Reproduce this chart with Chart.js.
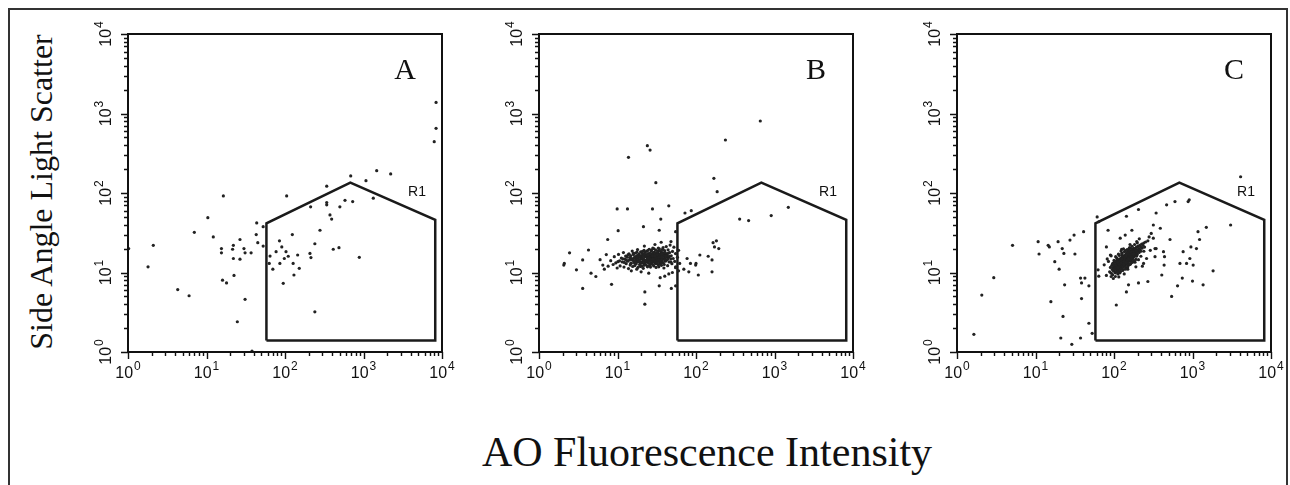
<!DOCTYPE html>
<html>
  <head>
    <title>AO flow cytometry</title>
    <style>
      body {
        margin: 0;
        background: #fff;
        width: 1290px;
        height: 485px;
        overflow: hidden;
        position: relative;
      }
      .frame {
        position: absolute;
        left: 8px;
        top: 8px;
        width: 1276px;
        height: 500px;
        border: 2px solid #333;
      }
      canvas {
        position: absolute;
        top: 16px;
      }
      .ytitle {
        position: absolute;
        left: 41px;
        top: 192px;
        transform: translate(-50%, -50%) rotate(-90deg);
        font-family: "Liberation Serif", "Times New Roman", serif;
        font-size: 32px;
        white-space: nowrap;
        color: #111;
      }
      .xtitle {
        position: absolute;
        left: 707px;
        top: 452px;
        transform: translate(-50%, -50%);
        font-family: "Liberation Serif", "Times New Roman", serif;
        font-size: 42px;
        white-space: nowrap;
        color: #111;
      }
    </style>
  </head>
  <body>
    <div class="frame"></div>
    <div class="ytitle">Side Angle Light Scatter</div>
    <div class="xtitle">AO Fluorescence Intensity</div>
    <canvas id="chartA" width="374" height="372"></canvas>
    <canvas id="chartB" width="374" height="372"></canvas>
    <canvas id="chartC" width="374" height="372"></canvas>

    <script src="https://cdn.jsdelivr.net/npm/chart.js"></script>
    <script>
      // axis decades (both axes 10^0 .. 10^4)
      var decades = [1, 10, 100, 1000, 10000];
      var exponents = ["0", "1", "2", "3", "4"];
      var panelLetters = ["A", "B", "C"];

      // gate R1 polygon (x, y) in data units
      var gateX = [58, 58, 680, 8200, 8200, 58];
      var gateY = [1.4, 41.5, 135, 46, 1.4, 1.4];
      var gateLabel = "R1";
      var gateLabelPos = [4800, 104];

      // panel A: events [x, y]
      var pointsA = [
        [1.8, 11.8], [2.1, 22], [4.3, 6.1], [6.0, 5.1], [7.0, 32], [10.4, 49], [12.2, 28],
        [16.4, 92], [15.5, 20], [15.5, 17.7], [16, 8.0], [18, 7.4], [21.5, 19.6], [22, 22],
        [22, 15], [22.4, 9.2], [24.7, 2.4], [26.7, 26], [26.7, 14.7], [30, 20], [31, 4.6],
        [31, 17.7], [37, 17.7], [43.6, 42], [43, 30], [45, 23.7], [52.7, 37.7], [52.7, 21.5],
        [64.5, 16.1], [63, 13], [70, 11], [77, 18.3], [85, 25], [86, 13], [91, 21], [95, 7.3],
        [98, 15], [103, 18.3], [105, 92], [110, 16], [124, 30], [127, 13], [130, 9.3],
        [145, 16.6], [152, 11.3], [208, 17.4], [212, 67], [214, 15.4], [240, 23], [240, 3.2],
        [279, 34], [340, 122], [340, 71], [340, 76], [374, 53], [393, 47], [412, 19.6],
        [487, 20.5], [500, 67], [581, 81], [687, 164], [728, 78], [884, 15.5], [1075, 143],
        [1333, 86], [1473, 191], [2220, 174], [8400, 1380], [8400, 650], [7960, 442],
        [1.02, 20], [38, 1.03]
      ];

      // panel B: scattered events
      var pointsB = [
        [659, 805], [237, 464], [24, 394], [26, 347], [13.8, 281], [30.8, 135], [169, 153],
        [186, 104], [9.9, 63], [13.4, 63], [27.9, 63], [45, 69], [35.6, 47], [87, 60],
        [72.4, 56], [360, 47], [468, 45], [908, 52], [1500, 66], [10.2, 33.6], [34, 34],
        [21.4, 37.7], [55, 32.6], [165, 23.7], [182, 25], [172, 21], [195, 20], [143, 16],
        [160, 14.4], [100, 13], [99, 12.4], [107, 9.3], [160, 10.2], [112, 16.6], [77, 15],
        [85, 13], [70, 11], [81, 10.2], [55, 11.8], [55, 6.8], [48.5, 6.3], [34, 6.8],
        [22.3, 5.7], [22.3, 4.0], [8.4, 7.1], [3.6, 6.3], [2.07, 12.4], [2.1, 13],
        [2.45, 17.7], [3.0, 10.8], [3.6, 14.4], [4.27, 19.2], [4.6, 9.8], [5.3, 8.9],
        [7.5, 26], [6.5, 12.4], [6.0, 14.5], [6.8, 11.0], [7.2, 16.8], [7.6, 12.0],
        [55, 11.5], [58, 15.5], [60, 19.0], [62, 13.0], [50, 10.0], [45, 9.6], [40, 9.0],
        [35, 8.6], [25, 9.8], [20, 10.2], [15, 10.5], [30, 22.5], [36, 24.0], [22, 21.5],
        [48, 24.5], [60, 10.5]
      ];

      // panel B: dense population around 10^1
      var clusterB = [
        [8.2, 14.1], [8.8, 12.6], [9.1, 15.8], [9.5, 13.2], [9.9, 11.4], [10.3, 16.9], [10.6, 14.0],
        [10.8, 12.1], [11.2, 15.2], [11.5, 13.6], [11.9, 17.8], [12.1, 11.7], [12.4, 14.7],
        [12.7, 16.1], [12.9, 12.9], [13.3, 15.6], [13.5, 13.9], [13.8, 11.2], [14.0, 17.2],
        [14.2, 14.4], [14.5, 12.4], [14.7, 16.3], [14.9, 13.1], [15.2, 15.0], [15.4, 18.6],
        [15.6, 11.9], [15.8, 14.2], [16.0, 16.7], [16.2, 13.4], [16.5, 12.2], [16.7, 15.5],
        [16.9, 17.6], [17.1, 14.0], [17.3, 12.8], [17.5, 16.2], [17.8, 13.7], [18.0, 19.4],
        [18.2, 11.6], [18.4, 15.1], [18.6, 14.3], [18.9, 17.0], [19.1, 12.5], [19.3, 16.0],
        [19.5, 13.3], [19.7, 18.2], [20.0, 14.8], [20.2, 12.0], [20.4, 15.7], [20.6, 17.4],
        [20.9, 13.8], [21.1, 16.5], [21.3, 11.3], [21.5, 14.6], [21.8, 19.0], [22.0, 13.0],
        [22.2, 15.9], [22.5, 17.9], [22.7, 12.6], [22.9, 14.1], [23.2, 16.8], [23.4, 13.5],
        [23.6, 18.5], [23.9, 15.3], [24.1, 11.8], [24.3, 14.9], [24.6, 17.3], [24.8, 13.2],
        [25.0, 16.4], [25.3, 19.6], [25.5, 12.3], [25.7, 15.0], [26.0, 17.7], [26.2, 14.4],
        [26.5, 13.0], [26.7, 16.1], [27.0, 18.8], [27.2, 12.7], [27.5, 15.6], [27.7, 14.0],
        [28.0, 17.1], [28.2, 20.3], [28.5, 13.6], [28.7, 16.6], [29.0, 12.1], [29.3, 15.2],
        [29.5, 18.1], [29.8, 14.5], [30.1, 16.9], [30.3, 13.3], [30.6, 19.2], [30.9, 15.8],
        [31.2, 12.9], [31.4, 17.5], [31.7, 14.2], [32.0, 16.3], [32.3, 13.7], [32.6, 18.6],
        [32.9, 15.4], [33.2, 12.4], [33.5, 16.8], [33.8, 14.8], [34.1, 19.9], [34.4, 13.1],
        [34.7, 17.2], [35.1, 15.1], [35.4, 12.8], [35.8, 16.0], [36.1, 18.3], [36.5, 14.1],
        [36.9, 15.9], [37.3, 13.4], [37.7, 17.7], [38.1, 20.6], [38.5, 14.7], [38.9, 16.4],
        [39.4, 12.6], [39.8, 18.9], [40.3, 15.3], [40.8, 13.9], [41.3, 17.0], [41.8, 21.2],
        [42.4, 14.4], [42.9, 16.7], [43.5, 12.2], [44.1, 19.3], [44.7, 15.6], [45.4, 13.6],
        [46.1, 17.8], [46.8, 22.1], [47.6, 14.9], [48.4, 16.2], [49.3, 12.9], [50.2, 18.4],
        [51.2, 15.0], [52.3, 20.8], [53.5, 13.8], [54.8, 17.3],
        [15.1, 14.6], [16.3, 15.3], [17.4, 14.8], [18.3, 16.6], [19.0, 14.0], [19.8, 15.4],
        [20.5, 16.2], [21.2, 15.0], [21.9, 14.3], [22.6, 16.1], [23.3, 15.7], [24.0, 13.9],
        [24.7, 15.5], [25.4, 14.2], [26.1, 16.0], [26.8, 15.1], [27.4, 13.4], [28.1, 15.9],
        [28.8, 14.7], [29.4, 16.4], [30.0, 15.0], [30.7, 14.0], [31.5, 15.6], [32.2, 14.9],
        [33.0, 17.0], [33.7, 15.7], [34.5, 14.6], [35.3, 16.6], [36.2, 15.3], [37.0, 16.9],
        [37.9, 15.0], [38.8, 17.4], [39.7, 16.1], [40.6, 17.8], [17.0, 13.1], [18.7, 13.6],
        [20.3, 13.1], [22.3, 13.6], [24.4, 16.6], [26.4, 17.2], [28.4, 17.8], [30.4, 17.4],
        [32.5, 18.1], [34.9, 18.7], [19.4, 15.9], [23.7, 14.5], [27.9, 16.3], [31.9, 16.7],
        [36.7, 17.2], [25.9, 14.8], [29.7, 13.8], [33.9, 15.4], [21.6, 17.1], [18.9, 16.0],
        [14.4, 15.4], [13.0, 14.3], [11.7, 14.9], [10.1, 13.7], [42.0, 15.8], [44.4, 17.5],
        [14.8, 13.0], [16.6, 14.1], [17.9, 15.8], [19.9, 13.4], [21.4, 16.0], [23.0, 14.0],
        [24.9, 15.2], [26.6, 13.8], [28.3, 14.6], [29.9, 16.1], [31.8, 13.2], [33.4, 14.2],
        [35.0, 13.9], [36.8, 15.6], [38.4, 13.2], [40.0, 14.4], [41.7, 16.2], [43.6, 14.8],
        [45.7, 16.0], [47.9, 13.6], [12.2, 13.4], [13.6, 16.7], [15.9, 17.4], [17.6, 11.0],
        [19.6, 11.9], [21.7, 12.3], [23.8, 12.1], [26.3, 11.7], [28.6, 12.5], [31.0, 11.6],
        [33.6, 11.8], [36.3, 12.3], [39.0, 11.4], [24.2, 18.9], [27.1, 19.3], [29.2, 19.9],
        [33.1, 20.2], [20.8, 18.4], [17.7, 18.0], [37.4, 19.5]
      ];

      // panel C: scattered events
      var pointsC = [
        [1.64, 1.67], [2.07, 5.2], [2.94, 8.6], [5.1, 22], [10.8, 24.4], [11.1, 17.1], [14.5, 22],
        [15, 21], [15.7, 4.3], [17.6, 13.7], [19.4, 24.4], [20, 11], [21.9, 20], [23, 17.4],
        [23.5, 7.0], [22.4, 2.8], [21, 1.5], [29, 1.25], [27.5, 25.6], [31, 29.6], [31.8, 17.1],
        [37.5, 8.5], [38.6, 7.4], [42.6, 8.5], [47.9, 6.8], [38.6, 4.7], [37.5, 1.5], [47.9, 2.3],
        [41, 32.6], [52.7, 1.72], [61, 50], [64, 43.5], [80, 21], [84, 34], [90, 16.6],
        [107, 3.9], [120, 27], [139, 29.6], [144, 51], [144, 5.7], [153, 7.0], [169, 34],
        [205, 62], [205, 7.4], [238, 13], [270, 7.7], [280, 28], [298, 31], [317, 27], [333, 20],
        [317, 39.6], [344, 20], [333, 15.8], [344, 56], [406, 9.3], [389, 36], [427, 18.3],
        [440, 15.8], [435, 12.4], [468, 71], [542, 5.0], [517, 26], [598, 78], [645, 6.8],
        [692, 13], [741, 8.5], [760, 18.3], [908, 82], [880, 78], [840, 13], [925, 15],
        [1020, 12.4], [955, 21], [1000, 7.8], [1123, 20], [1175, 32.6], [1230, 26], [1365, 7.0],
        [1500, 37], [1830, 10.5], [3060, 39.6], [4100, 160], [62.7, 10.8], [64, 9.0],
        [75, 12.5], [80, 9.2], [82, 14.8], [92, 16.2], [98, 8.4], [115, 8.8], [125, 19.5],
        [135, 9.6], [150, 11.0], [160, 22.5], [185, 13.5], [195, 24.5], [205, 14.5], [220, 16.0],
        [240, 18.5], [260, 15.0], [270, 25.0], [290, 19.0], [210, 26.5], [230, 12.0], [85, 13.8],
        [92, 8.9], [190, 11.8]
      ];

      // panel C: dense population just above 10^2
      var clusterC = [
        [88, 10.2], [90, 11.6], [92, 9.8], [94, 12.3], [95, 10.9], [97, 11.5], [98, 13.1], [99, 10.4],
        [101, 12.0], [102, 11.1], [103, 13.5], [104, 9.9], [105, 12.6], [106, 11.4], [107, 14.0],
        [108, 10.8], [109, 12.9], [110, 11.9], [111, 13.7], [112, 10.5], [113, 12.2], [114, 14.4],
        [115, 11.3], [116, 13.2], [117, 12.5], [118, 10.9], [119, 14.8], [120, 12.0], [121, 13.6],
        [122, 11.6], [123, 15.1], [124, 12.8], [125, 13.9], [126, 11.2], [127, 14.5], [128, 12.4],
        [129, 15.6], [130, 13.3], [131, 11.8], [132, 14.1], [133, 16.0], [134, 12.9], [135, 15.0],
        [136, 13.6], [137, 12.1], [138, 16.4], [139, 14.3], [140, 13.0], [141, 15.4], [142, 17.1],
        [143, 13.8], [144, 14.9], [145, 12.6], [146, 16.2], [147, 15.0], [148, 13.5], [149, 17.5],
        [150, 14.6], [151, 16.0], [152, 13.2], [153, 15.5], [154, 18.0], [155, 14.2], [156, 16.7],
        [157, 15.1], [158, 13.9], [159, 17.3], [160, 15.8], [161, 14.5], [162, 18.6], [163, 16.3],
        [164, 15.0], [165, 17.7], [166, 14.1], [167, 16.9], [168, 19.0], [169, 15.6], [170, 17.2],
        [171, 16.1], [172, 14.8], [173, 18.3], [174, 16.6], [175, 19.5], [176, 15.4], [177, 17.8],
        [178, 16.9], [179, 20.1], [180, 15.9], [182, 18.7], [184, 17.2], [186, 19.8], [188, 16.4],
        [190, 18.2], [192, 20.7], [194, 17.5], [196, 19.1], [198, 16.8], [200, 21.3], [203, 18.6],
        [206, 20.0], [209, 17.9], [212, 22.0], [215, 19.4], [218, 21.0], [221, 18.5], [225, 22.8],
        [229, 20.3], [234, 21.9], [239, 23.5], [245, 20.9], [252, 24.2],
        [100, 11.0], [105, 11.7], [110, 12.4], [115, 12.1], [120, 13.0], [125, 12.6], [130, 14.2],
        [135, 14.0], [140, 14.8], [145, 15.3], [150, 15.6], [155, 16.1], [160, 16.8], [165, 16.4],
        [170, 18.0], [175, 17.5], [118, 12.7], [128, 13.6], [138, 15.2], [148, 16.4], [158, 17.0],
        [168, 17.6], [178, 18.9], [112, 13.4], [122, 14.3], [132, 15.0], [142, 16.0], [152, 17.2],
        [162, 17.9], [172, 19.2], [108, 12.1], [124, 13.3], [136, 14.6], [146, 14.2], [156, 15.3],
        [166, 16.1], [176, 18.3], [186, 18.4], [116, 11.9], [126, 14.8], [134, 13.7], [144, 16.8],
        [154, 14.9], [164, 18.2], [174, 17.0], [184, 19.4], [103, 12.4], [113, 11.6], [133, 12.8],
        [143, 13.4], [153, 18.4], [163, 14.7], [173, 15.8], [183, 16.6], [193, 18.9], [96, 12.9],
        [106, 10.3], [127, 16.1], [147, 17.9], [167, 20.0],
        [96, 9.4], [100, 14.2], [104, 8.9], [108, 15.3], [112, 9.6], [117, 16.4], [121, 10.3],
        [126, 17.5], [131, 10.9], [136, 18.3], [141, 11.6], [147, 19.4], [152, 12.3], [158, 20.6],
        [163, 12.9], [170, 21.4], [176, 13.7], [183, 22.5], [190, 14.6], [198, 23.6], [105, 15.8],
        [114, 17.0], [123, 18.6], [132, 19.9], [140, 11.0], [150, 11.8], [160, 12.6], [170, 13.4],
        [180, 14.1], [119, 9.9], [129, 10.6], [110, 14.9], [127, 16.9], [139, 18.8], [155, 19.8],
        [168, 15.2], [181, 17.0], [193, 16.0], [102, 13.9], [111, 10.1]
      ];

      // panel geometry: left edge of each plot box on the page
      var boxLefts = [128, 539, 957];
      var padLeft = 44, padTop = 18, padRight = 16, padBottom = 36;

      function toXY(list) {
        return list.map(function (p) {
          return { x: p[0], y: p[1] };
        });
      }

      // 10 with a superscript exponent, centred on (0,0) baseline
      function drawPower(ctx, exp) {
        ctx.font = '16px "Liberation Sans", Arial, sans-serif';
        var w1 = ctx.measureText("10").width;
        ctx.font = '12px "Liberation Sans", Arial, sans-serif';
        var w2 = ctx.measureText(exp).width;
        var start = -(w1 + w2 + 1) / 2;
        ctx.font = '16px "Liberation Sans", Arial, sans-serif';
        ctx.fillText("10", start, 0);
        ctx.font = '12px "Liberation Sans", Arial, sans-serif';
        ctx.fillText(exp, start + w1 + 1, -8);
      }

      var cytoAxes = {
        id: "cytoAxes",
        afterDraw: function (chart) {
          var ctx = chart.ctx;
          var a = chart.chartArea;
          var xs = chart.scales.x;
          var ys = chart.scales.y;
          ctx.save();
          ctx.strokeStyle = "#111";
          ctx.fillStyle = "#111";
          ctx.lineWidth = 2;
          ctx.strokeRect(a.left, a.top, a.right - a.left, a.bottom - a.top);

          // log ticks, pointing outwards
          ctx.lineWidth = 1.4;
          ctx.beginPath();
          for (var d = 0; d < decades.length; d++) {
            for (var m = 1; m <= 9; m++) {
              if (d === decades.length - 1 && m > 1) break;
              var v = m * decades[d];
              var len = m === 1 ? 7 : 4;
              var px = Math.round(xs.getPixelForValue(v)) + 0.5;
              var py = Math.round(ys.getPixelForValue(v)) + 0.5;
              ctx.moveTo(px, a.bottom);
              ctx.lineTo(px, a.bottom + len);
              ctx.moveTo(a.left, py);
              ctx.lineTo(a.left - len, py);
            }
          }
          ctx.stroke();

          // tick labels
          ctx.textAlign = "left";
          ctx.textBaseline = "alphabetic";
          for (var i = 0; i < decades.length; i++) {
            ctx.save();
            ctx.translate(xs.getPixelForValue(decades[i]), a.bottom + 26);
            drawPower(ctx, exponents[i]);
            ctx.restore();
            ctx.save();
            ctx.translate(a.left - 17, ys.getPixelForValue(decades[i]));
            ctx.rotate(-Math.PI / 2);
            drawPower(ctx, exponents[i]);
            ctx.restore();
          }

          // gate name and panel letter
          ctx.font = '14px "Liberation Sans", Arial, sans-serif';
          ctx.textAlign = "center";
          ctx.textBaseline = "middle";
          ctx.fillText(
            gateLabel,
            xs.getPixelForValue(gateLabelPos[0]),
            ys.getPixelForValue(gateLabelPos[1])
          );
          ctx.font = '30px "Liberation Serif", "Times New Roman", serif';
          ctx.fillText(chart.options.plugins.panelLetter, a.right - 37, a.top + 37);
          ctx.restore();
        },
      };

      var panelPoints = [pointsA, pointsB.concat(clusterB), pointsC.concat(clusterC)];
      var ids = ["chartA", "chartB", "chartC"];

      var gateData = gateX.map(function (x, i) {
        return { x: x, y: gateY[i] };
      });

      for (var k = 0; k < 3; k++) {
        var canvas = document.getElementById(ids[k]);
        canvas.style.left = boxLefts[k] - padLeft + "px";
        new Chart(canvas, {
          type: "scatter",
          data: {
            datasets: [
              {
                label: "events",
                data: toXY(panelPoints[k]),
                pointRadius: 1.6,
                pointBorderWidth: 0,
                backgroundColor: "#222",
                borderColor: "#222",
              },
              {
                label: "R1",
                data: gateData,
                showLine: true,
                pointRadius: 0,
                borderColor: "#1a1a1a",
                borderWidth: 2.5,
                fill: false,
                clip: false,
              },
            ],
          },
          options: {
            responsive: false,
            animation: false,
            events: [],
            layout: {
              padding: { left: padLeft, top: padTop, right: padRight, bottom: padBottom },
            },
            scales: {
              x: { type: "logarithmic", min: 1, max: 10000, display: false },
              y: { type: "logarithmic", min: 1, max: 10000, display: false },
            },
            plugins: {
              legend: { display: false },
              tooltip: { enabled: false },
              panelLetter: panelLetters[k],
            },
          },
          plugins: [cytoAxes],
        });
      }
    </script>
  </body>
</html>
